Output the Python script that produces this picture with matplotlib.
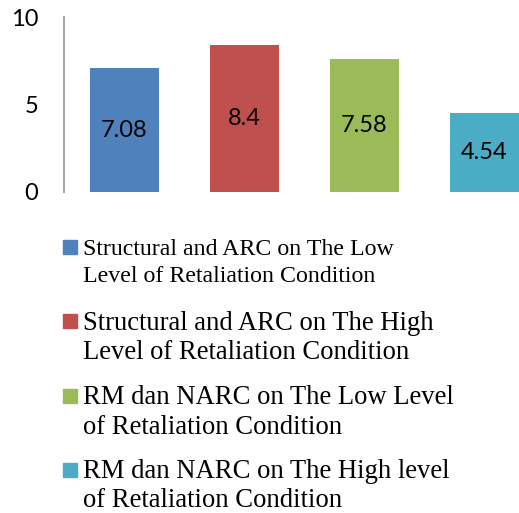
import matplotlib.pyplot as plt
from matplotlib.patches import Rectangle

# --- data ---
categories = [
    "Structural and ARC on The Low\nLevel of Retaliation Condition",
    "Structural and ARC on The High\nLevel of Retaliation Condition",
    "RM dan NARC on The Low Level\nof Retaliation Condition",
    "RM dan NARC on The High level\nof Retaliation Condition",
]
values = [7.08, 8.4, 7.58, 4.54]
value_labels = ["7.08", "8.4", "7.58", "4.54"]
colors = ["#4F81BD", "#C0504D", "#9BBB59", "#4BACC6"]
yticks = [0, 5, 10]

W, H = 519, 513
fig = plt.figure(figsize=(W / 100, H / 100), dpi=100)

# plot area: axis line at x=64, zero at y=192, 10 at y=17 (pixels from top)
ax = fig.add_axes([64 / W, (H - 192) / H, 480 / W, 175 / H])
x = list(range(len(values)))
bars = ax.bar(x, values, width=0.575, color=colors)
for b, lab in zip(bars, value_labels):
    ax.text(b.get_x() + b.get_width() / 2, b.get_height() / 2, lab,
            ha="center", va="center", fontsize=17, family="Lato",
            color="black")

ax.set_xlim(-0.5, len(values) - 0.5)
ax.set_ylim(0, 10)
ax.set_yticks(yticks)
ax.set_yticklabels([str(t) for t in yticks], fontsize=17, family="Lato")
ax.tick_params(axis="y", length=0, pad=18.5)
ax.set_xticks([])
for side in ["top", "right", "bottom"]:
    ax.spines[side].set_visible(False)
ax.spines["left"].set_color("#a6a6a6")
ax.spines["left"].set_linewidth(1.5)

# legend drawn by hand so each entry wraps like the original
marker_top = [240, 314, 389, 463]
baselines = [(255, 282), (330, 359), (404, 434), (478, 507)]
sizes = [17.2, 19.2, 19.2, 19.2]
for cat, col, mt, bl, fs in zip(categories, colors, marker_top, baselines, sizes):
    fig.patches.append(Rectangle((63 / W, 1 - (mt + 14) / H), 14 / W, 14 / H,
                                 transform=fig.transFigure, color=col))
    for line, y in zip(cat.split("\n"), bl):
        fig.text(83 / W, 1 - y / H, line, ha="left", va="baseline",
                 fontsize=fs, family="Liberation Serif", color="black")

fig.savefig("out.png", dpi=100)
